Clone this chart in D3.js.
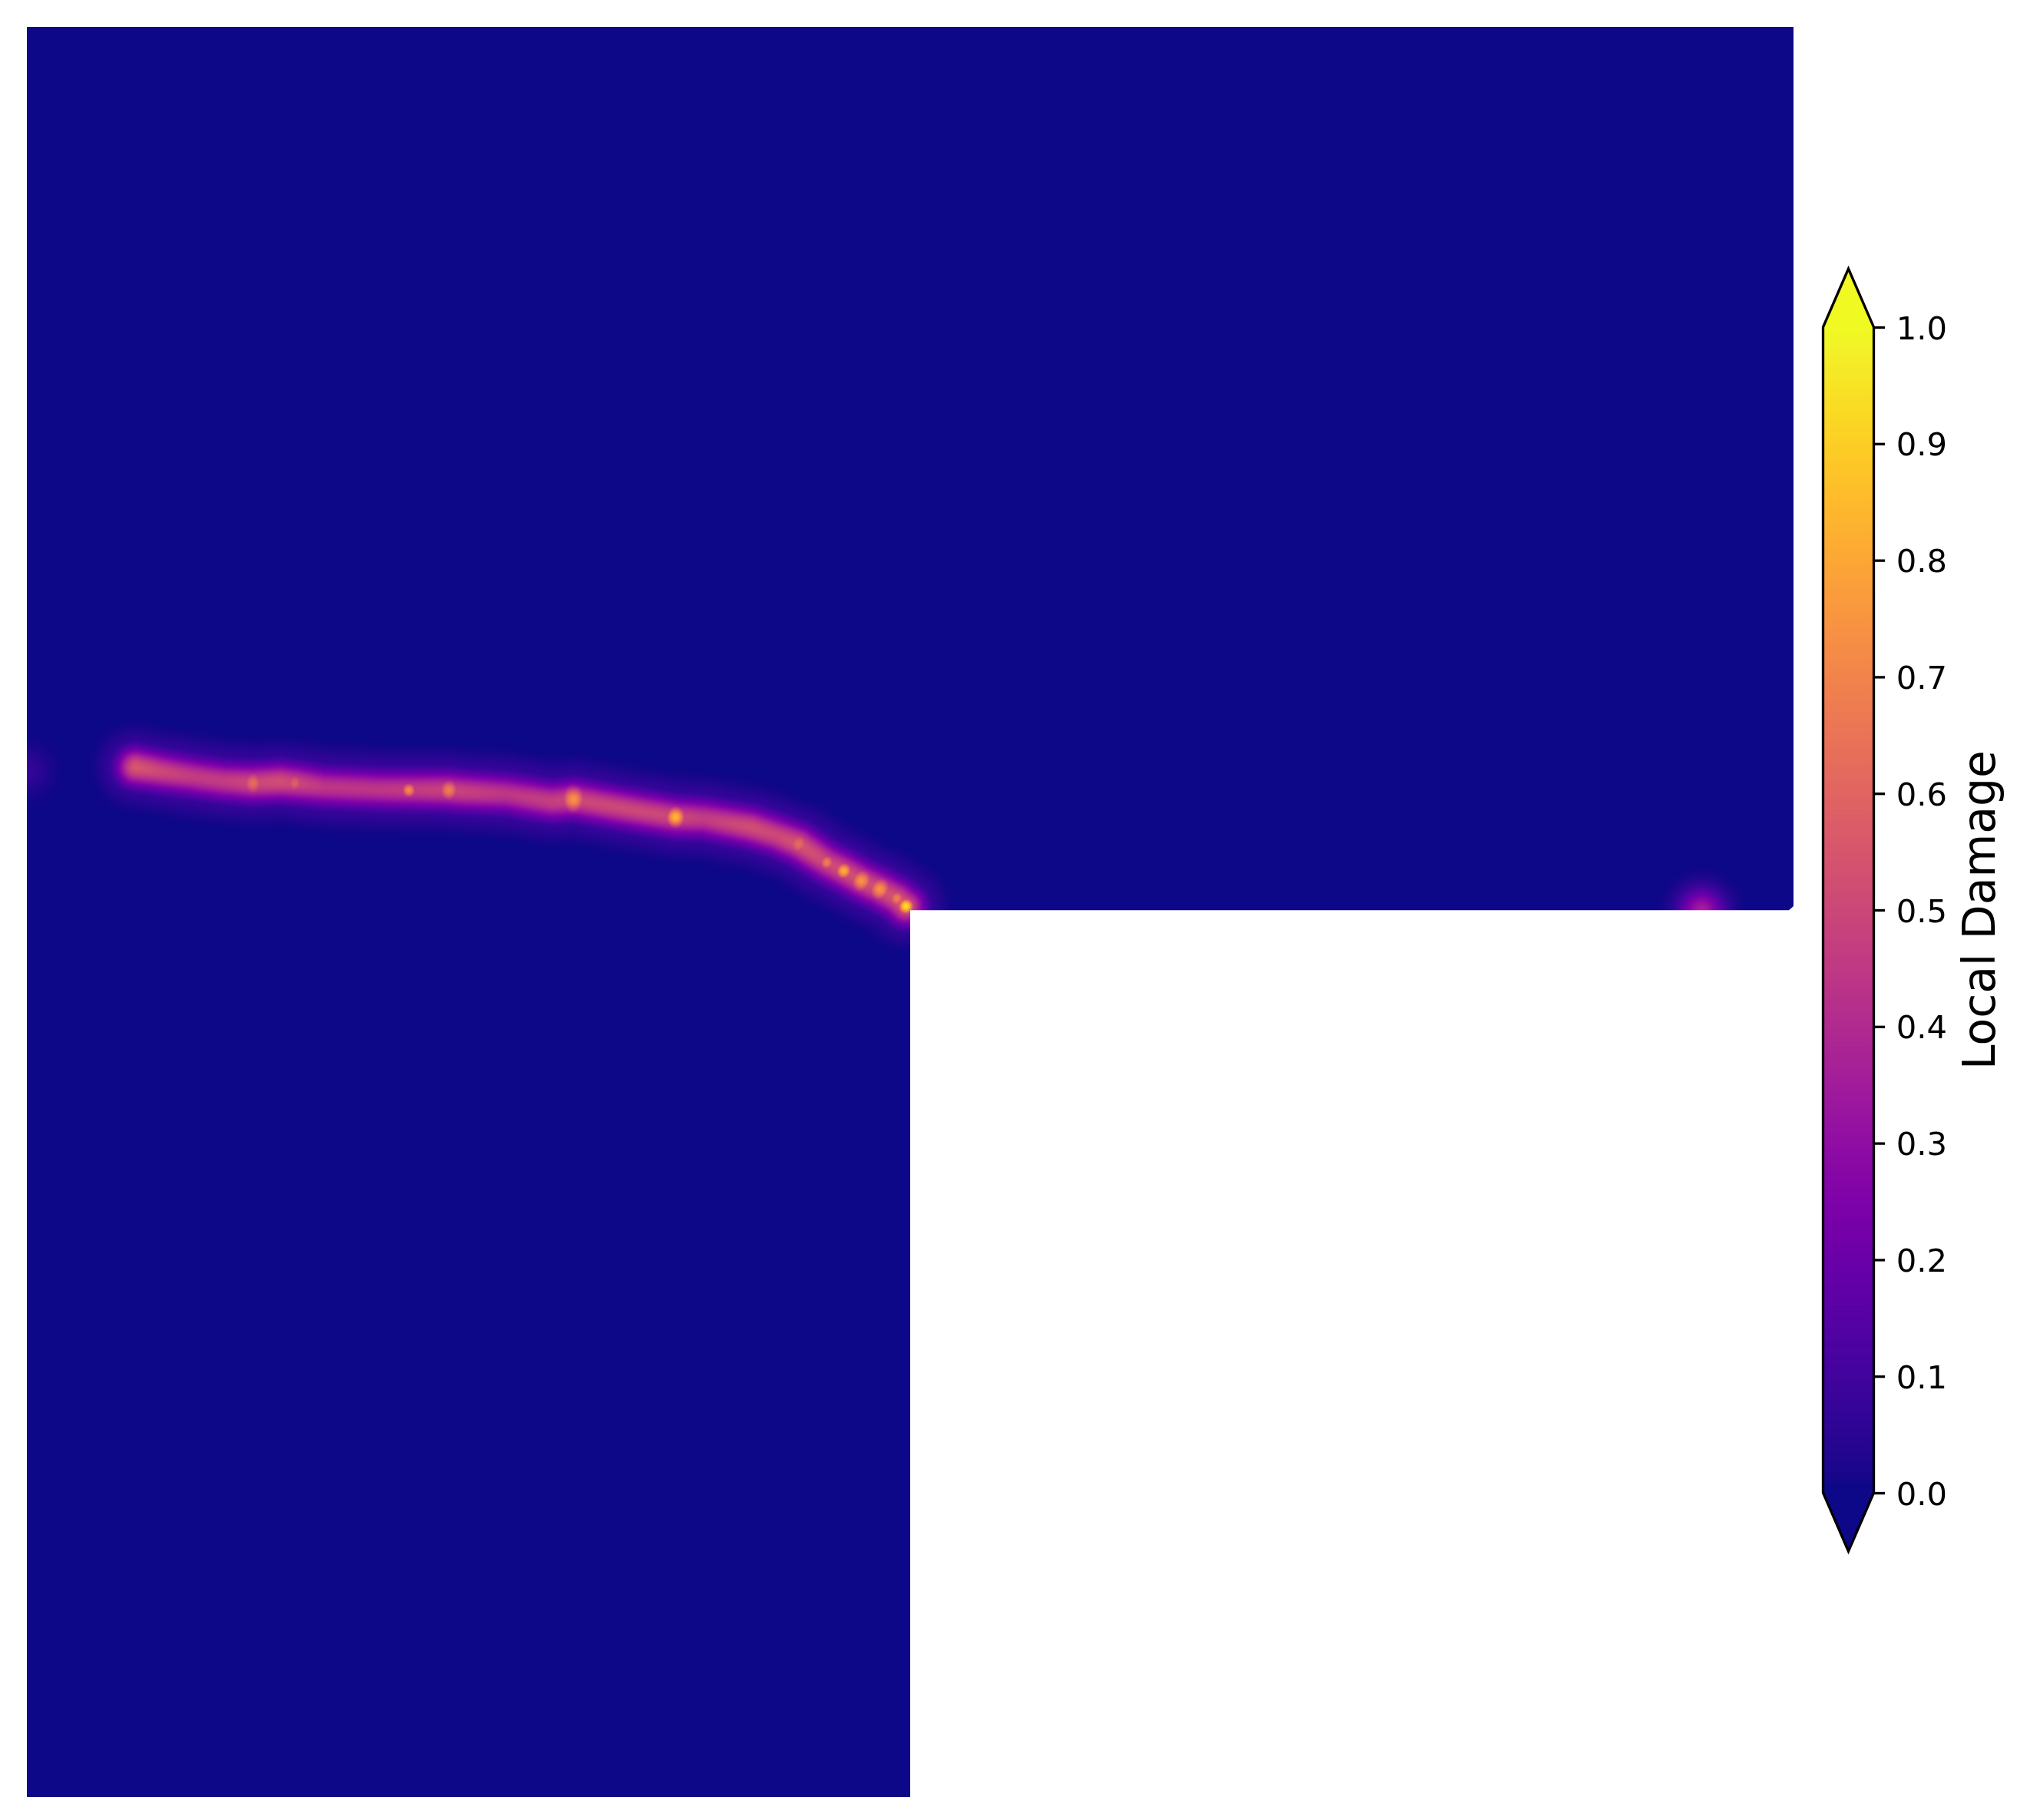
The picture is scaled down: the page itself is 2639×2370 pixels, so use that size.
<!DOCTYPE html>
<html><head><meta charset="utf-8">
<script src="https://cdnjs.cloudflare.com/ajax/libs/d3/7.8.5/d3.min.js"></script>
<style>html,body{margin:0;padding:0;background:#fff}#wrap{position:relative;width:2639px;height:2370px}canvas,svg{position:absolute;left:0;top:0}</style>
</head><body><div id="wrap"><canvas id="c" width="2639" height="2370"></canvas><svg id="s" width="2639" height="2370"></svg></div>
<script>
// Specimen outline (mm)
const outlineX = [0, 500, 500, 498.7, 250, 250, 0];
const outlineY = [500, 500, 251.6, 250.5, 250.5, 0, 0];
// Crack path: position and local damage along it
const crackX = [30.7,38.0,46.5,55.4,63.9,71.5,75.7,83.9,100.4,119.3,122.8,135.7,148.7,154.6,169.1,183.5,191.5,204.6,212.2,218.3,226.3,231.1,236.1,241.3,246.1,248.7];
const crackY = [291.0,289.7,288.4,287.1,286.5,286.9,286.5,285.4,284.7,284.5,284.1,283.4,281.3,281.9,279.3,276.9,276.5,274.1,271.7,269.3,264.1,261.7,258.9,256.5,253.9,251.7];
const crackDamage = [.55,.5,.46,.46,.5,.52,.5,.44,.44,.48,.48,.44,.47,.5,.5,.5,.46,.52,.5,.54,.5,.52,.52,.52,.54,.56];
// Local damage peaks
const peakX = [63.9,75.7,108.0,119.3,154.6,183.5,218.3,226.3,231.1,236.1,241.3,246.1,248.7,473.9,0];
const peakY = [286.5,286.5,284.5,284.5,281.9,276.9,269.3,264.1,261.7,258.9,256.5,253.9,251.7,250.4,290];
const peakDamage = [.62,.58,.72,.68,.74,.84,.62,.68,.82,.74,.74,.68,.95,.36,.07];
const peakRadius = [4,3.6,2.6,3.6,4.2,3.4,4,2.8,2.8,3.8,3.8,3,2.6,6,6];
// Colour bar
const barTicks = [0,.1,.2,.3,.4,.5,.6,.7,.8,.9,1];
const barLabel = "Local Damage";

const x = d3.scaleLinear().domain([0,500]).range([35,2335]);
const y = d3.scaleLinear().domain([0,500]).range([2340,35]);
const color = d3.scaleSequential(d3.interpolatePlasma).domain([0,1]);

const lut = d3.range(1024).map(i => d3.rgb(color(i/1023)));
const W = 2639, H = 2370;
const off = document.createElement('canvas'); off.width = W; off.height = H;
const octx = off.getContext('2d');
octx.fillStyle = color(0); octx.fillRect(0,0,W,H);

const pts = crackX.map((d,i)=>({x:x(d),y:y(crackY[i]),v:crackDamage[i]}));
const peaks = peakX.map((d,i)=>({x:x(d),y:y(peakY[i]),v:peakDamage[i],r:Math.abs(x(peakRadius[i])-x(0))}));
const x0=35,x1=2335,y0=900,y1=1240;
const img = octx.createImageData(x1-x0,y1-y0);
let k=0;
for(let py=y0;py<y1;py++){for(let px=x0;px<x1;px++){
  let v=0;
  for(let i=0;i<pts.length-1;i++){
    const a=pts[i],b=pts[i+1];
    const dx=b.x-a.x,dy=b.y-a.y;
    let t=((px-a.x)*dx+(py-a.y)*dy)/(dx*dx+dy*dy);
    t=Math.max(0,Math.min(1,t));
    const ex=px-a.x-t*dx,ey=py-a.y-t*dy;
    const d=Math.sqrt(ex*ex+ey*ey);
    if(d>90) continue;
    const D=a.v+(b.v-a.v)*t;
    const w=Math.max(D*Math.exp(-Math.pow(d/24,2)), 0.09*Math.exp(-Math.pow(d/46,4)));
    if(w>v)v=w;
  }
  for(const p of peaks){
    const ex=px-p.x,ey=py-p.y,q=(ex*ex+ey*ey)/(p.r*p.r);
    if(q<9){const w=p.v*Math.exp(-q);if(w>v)v=w;}
  }
  const c=lut[Math.round(Math.min(1,v)*1023)];
  img.data[k++]=c.r;img.data[k++]=c.g;img.data[k++]=c.b;img.data[k++]=255;
}}
octx.putImageData(img,x0,y0);

const ctx = document.getElementById('c').getContext('2d');
ctx.fillStyle='#fff';ctx.fillRect(0,0,W,H);
ctx.save();ctx.beginPath();
outlineX.forEach((d,i)=>{i?ctx.lineTo(x(d),y(outlineY[i])):ctx.moveTo(x(d),y(outlineY[i]));});
ctx.closePath();ctx.clip();ctx.drawImage(off,0,0);ctx.restore();

// Colour bar
const svg = d3.select('#s');
const barL=2373.5, barR=2439.5;
const cy = d3.scaleLinear().domain([0,1]).range([1944,426]);
const ext = 76;
const steps = d3.range(0,1,1/256);
svg.append('g').selectAll('rect').data(steps).join('rect')
  .attr('x',barL).attr('width',barR-barL)
  .attr('y',d=>cy(d+1/256)-0.5).attr('height',d=>cy(d)-cy(d+1/256)+1)
  .attr('fill',d=>color(d+0.5/256));
svg.append('path').attr('d',`M${barL},${cy(1)}L${(barL+barR)/2},${cy(1)-ext}L${barR},${cy(1)}Z`).attr('fill',color(1));
svg.append('path').attr('d',`M${barL},${cy(0)}L${(barL+barR)/2},${cy(0)+ext}L${barR},${cy(0)}Z`).attr('fill',color(0));
svg.append('path').attr('fill','none').attr('stroke','#000').attr('stroke-width',3.3).attr('stroke-linejoin','miter')
  .attr('d',`M${barL},${cy(1)}L${(barL+barR)/2},${cy(1)-ext}L${barR},${cy(1)}L${barR},${cy(0)}L${(barL+barR)/2},${cy(0)+ext}L${barL},${cy(0)}Z`);
const axis = d3.axisRight(cy).tickValues(barTicks).tickFormat(d3.format('.1f')).tickSize(14.6).tickPadding(14.6);
const g = svg.append('g').attr('transform',`translate(${barR},0)`).call(axis);
g.select('.domain').remove();
g.selectAll('line').attr('stroke','#000').attr('stroke-width',3.3);
g.selectAll('text').attr('font-family','"DejaVu Sans"').attr('font-size',41.67).attr('fill','#000').attr('dy','0.36em');
svg.append('text').text(barLabel).attr('transform',`translate(2576,${(cy(0)+cy(1))/2}) rotate(-90)`)
  .attr('text-anchor','middle').attr('dy','0.36em').attr('font-family','"DejaVu Sans"').attr('font-size',58.33).attr('fill','#000');
</script></body></html>
